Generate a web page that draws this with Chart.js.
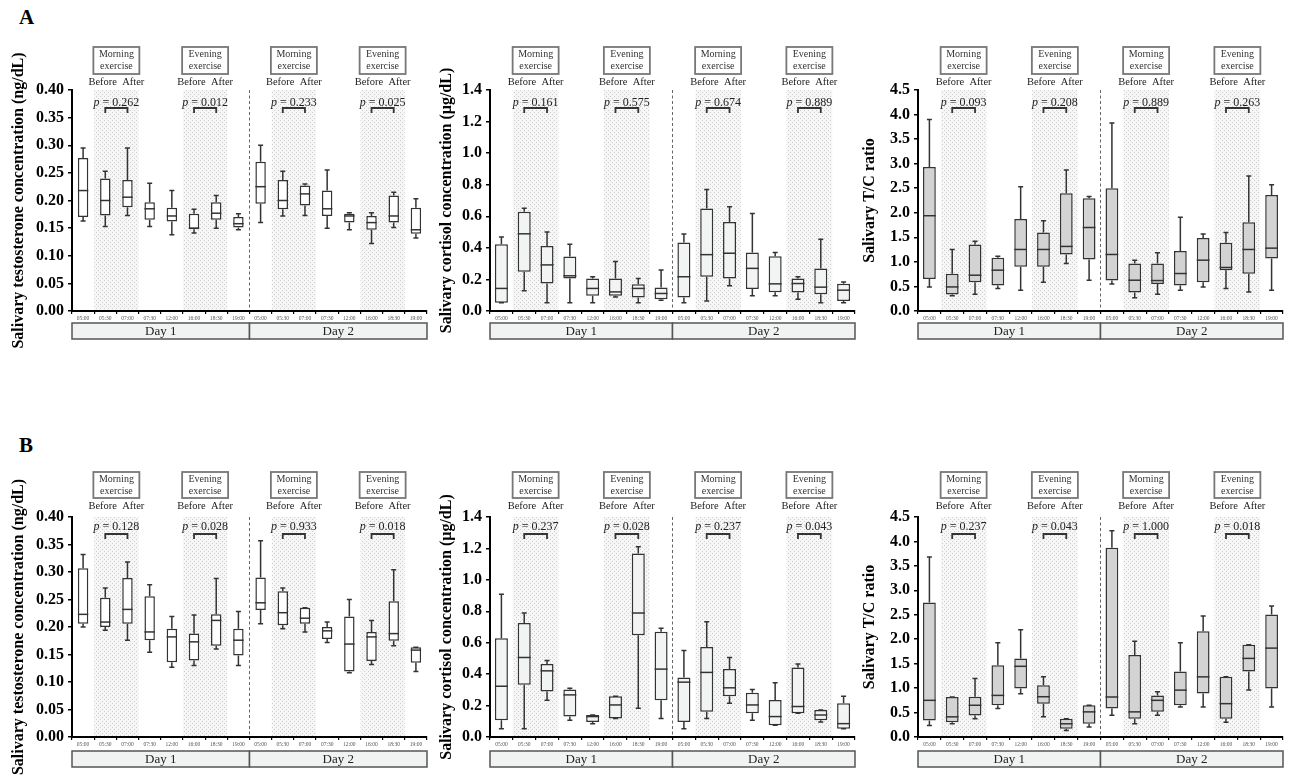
<!DOCTYPE html>
<html><head><meta charset="utf-8">
<script src="https://cdn.jsdelivr.net/npm/chart.js@4.4.1/dist/chart.umd.min.js"></script>
<style>
html,body{margin:0;padding:0;background:#fff;overflow:hidden;width:1291px;height:783px;}
.panel{position:absolute;}
.letter{position:absolute;font:bold 21px "Liberation Serif",serif;color:#000;line-height:24px;}
</style></head><body>
<div class="letter" style="left:19px;top:5px">A</div>
<div class="letter" style="left:19px;top:433px">B</div>
<canvas id="c1" class="panel"></canvas>
<canvas id="c2" class="panel"></canvas>
<canvas id="c3" class="panel"></canvas>
<canvas id="c4" class="panel"></canvas>
<canvas id="c5" class="panel"></canvas>
<canvas id="c6" class="panel"></canvas>
<script>
// ---------- data ----------
const timeLabels = ['05:00','05:30','07:00','07:30','12:00','16:00','18:30','19:00','05:00','05:30','07:00','07:30','12:00','16:00','18:30','19:00'];
const dayLabels = ['Day 1','Day 2'];
const exerciseNames = ['Morning','Evening','Morning','Evening'];
const exerciseWord = 'exercise';
const beforeAfter = 'Before  After';

const testTicks = [0,0.05,0.10,0.15,0.20,0.25,0.30,0.35,0.40];
const cortTicks = [0,0.2,0.4,0.6,0.8,1.0,1.2,1.4];
const ratioTicks = [0,0.5,1.0,1.5,2.0,2.5,3.0,3.5,4.0,4.5];

// A: testosterone
const aTestMin = [0.163,0.153,0.173,0.153,0.138,0.141,0.150,0.147, 0.160,0.172,0.173,0.150,0.147,0.122,0.151,0.132];
const aTestQ1  = [0.170,0.173,0.188,0.165,0.162,0.148,0.165,0.151, 0.194,0.184,0.191,0.172,0.160,0.147,0.160,0.140];
const aTestMed = [0.218,0.200,0.206,0.185,0.172,0.150,0.177,0.158, 0.225,0.200,0.212,0.185,0.172,0.160,0.172,0.147];
const aTestQ3  = [0.277,0.240,0.237,0.197,0.187,0.176,0.197,0.170, 0.270,0.237,0.227,0.218,0.176,0.172,0.209,0.187];
const aTestMax = [0.295,0.253,0.295,0.231,0.218,0.184,0.209,0.176, 0.300,0.253,0.230,0.255,0.178,0.178,0.215,0.203];
const aTestP = ['0.262','0.012','0.233','0.025'];
// A: cortisol
const aCortMin = [0.053,0.128,0.053,0.053,0.053,0.089,0.053,0.068, 0.053,0.064,0.160,0.096,0.096,0.074,0.053,0.053];
const aCortQ1  = [0.053,0.249,0.174,0.206,0.096,0.096,0.085,0.074, 0.085,0.217,0.206,0.140,0.119,0.117,0.106,0.064];
const aCortMed = [0.143,0.489,0.292,0.223,0.143,0.121,0.143,0.111, 0.217,0.357,0.366,0.270,0.172,0.174,0.151,0.132];
const aCortQ3  = [0.423,0.628,0.411,0.345,0.206,0.206,0.170,0.149, 0.434,0.649,0.564,0.370,0.347,0.206,0.270,0.172];
const aCortMax = [0.468,0.651,0.500,0.423,0.217,0.313,0.206,0.260, 0.487,0.770,0.660,0.617,0.370,0.217,0.455,0.183];
const aCortP = ['0.161','0.575','0.674','0.889'];
// A: T/C ratio
const aRatMin = [0.49,0.31,0.34,0.456,0.42,0.586,0.967,0.627, 0.55,0.272,0.34,0.42,0.49,0.456,0.388,0.42];
const aRatQ1  = [0.654,0.334,0.586,0.518,0.899,0.899,1.151,1.049, 0.62,0.375,0.552,0.518,0.586,0.831,0.756,1.07];
const aRatMed = [1.94,0.49,0.729,0.831,1.253,1.253,1.315,1.70, 1.151,0.627,0.62,0.763,1.035,0.886,1.253,1.28];
const aRatQ3  = [2.93,0.756,1.356,1.083,1.873,1.60,2.40,2.296, 2.50,0.967,0.967,1.22,1.485,1.39,1.805,2.364];
const aRatMax = [3.90,1.25,1.42,1.117,2.53,1.84,2.87,2.33, 3.83,1.035,1.185,1.907,1.567,1.60,2.75,2.57];
const aRatP = ['0.093','0.208','0.889','0.263'];
// B: testosterone
const bTestMin = [0.200,0.194,0.176,0.154,0.127,0.130,0.160,0.130, 0.206,0.197,0.191,0.172,0.117,0.132,0.166,0.119];
const bTestQ1  = [0.206,0.200,0.206,0.176,0.136,0.139,0.166,0.148, 0.231,0.203,0.206,0.178,0.119,0.138,0.175,0.135];
const bTestMed = [0.223,0.209,0.232,0.191,0.182,0.173,0.212,0.176, 0.244,0.226,0.216,0.193,0.169,0.182,0.188,0.158];
const bTestQ3  = [0.307,0.253,0.289,0.256,0.197,0.188,0.223,0.197, 0.290,0.265,0.235,0.200,0.219,0.191,0.247,0.163];
const bTestMax = [0.332,0.271,0.318,0.277,0.219,0.222,0.288,0.228, 0.357,0.271,0.235,0.209,0.250,0.212,0.304,0.163];
const bTestP = ['0.128','0.028','0.933','0.018'];
// B: cortisol
const bCortMin = [0.053,0.053,0.234,0.106,0.085,0.117,0.183,0.117, 0.053,0.117,0.215,0.106,0.074,0.151,0.096,0.053];
const bCortQ1  = [0.106,0.332,0.289,0.130,0.096,0.117,0.647,0.234, 0.096,0.160,0.260,0.151,0.074,0.151,0.106,0.053];
const bCortMed = [0.323,0.506,0.421,0.268,0.130,0.204,0.789,0.432, 0.349,0.411,0.313,0.204,0.130,0.194,0.140,0.085];
const bCortQ3  = [0.628,0.726,0.464,0.302,0.140,0.260,1.168,0.670, 0.379,0.572,0.432,0.281,0.236,0.443,0.172,0.215];
const bCortMax = [0.909,0.789,0.487,0.311,0.140,0.260,1.210,0.692, 0.551,0.734,0.506,0.302,0.345,0.464,0.172,0.260];
const bCortP = ['0.237','0.028','0.237','0.043'];
// B: T/C ratio
const bRatMin = [0.236,0.27,0.372,0.581,0.885,0.412,0.135,0.203, 0.446,0.27,0.446,0.615,0.615,0.304,0.959,0.615];
const bRatQ1  = [0.338,0.304,0.44,0.649,0.993,0.682,0.169,0.27, 0.581,0.372,0.514,0.649,0.892,0.372,1.338,0.993];
const bRatMed = [0.75,0.412,0.649,0.851,1.446,0.824,0.27,0.514, 0.818,0.514,0.75,0.959,1.23,0.682,1.608,1.818];
const bRatQ3  = [2.75,0.818,0.824,1.466,1.608,1.061,0.372,0.649, 3.87,1.676,0.851,1.338,2.162,1.23,1.885,2.507];
const bRatMax = [3.68,0.818,1.196,1.926,2.196,1.23,0.372,0.649, 4.22,1.96,0.926,1.926,2.473,1.23,1.885,2.68];
const bRatP = ['0.237','0.043','1.000','0.018'];

// ---------- layout / style ----------
const FONT = 'Liberation Serif';
const shadePairs = [[1,2],[5,6],[9,10],[13,14]];
const annA = {boxTop:-43, boxBot:-16, ba:-8, p:13, brTop:18, brBot:23, dayTop:12};
const annB = {boxTop:-45, boxBot:-19, ba:-11, p:10, brTop:17, brBot:22, dayTop:14};

const panels = [
 {id:'c1', CL:0,   CT:0,   CW:437, CH:360, L:72,  R:427,  T:90,  B:311, Xt:19,  title:'Salivary testosterone concentration (ng/dL)', ticks:testTicks, dec:2, max:0.4, v:[aTestMin,aTestQ1,aTestMed,aTestQ3,aTestMax], p:aTestP, fill:'#ffffff', bp:0.47, ann:annA},
 {id:'c2', CL:430, CT:0,   CW:433, CH:360, L:490, R:855,  T:90,  B:311, Xt:447, title:'Salivary cortisol concentration (\u03bcg/dL)', ticks:cortTicks, dec:1, max:1.4, v:[aCortMin,aCortQ1,aCortMed,aCortQ3,aCortMax], p:aCortP, fill:'#f2f3f3', bp:0.57, ann:annA},
 {id:'c3', CL:850, CT:0,   CW:441, CH:360, L:918, R:1283, T:90,  B:311, Xt:870, title:'Salivary T/C ratio', ticks:ratioTicks, dec:1, max:4.5, v:[aRatMin,aRatQ1,aRatMed,aRatQ3,aRatMax], p:aRatP, fill:'#d3d3d3', bp:0.56, ann:annA},
 {id:'c4', CL:0,   CT:427, CW:437, CH:356, L:72,  R:427,  T:517, B:737, Xt:19,  title:'Salivary testosterone concentration (ng/dL)', ticks:testTicks, dec:2, max:0.4, v:[bTestMin,bTestQ1,bTestMed,bTestQ3,bTestMax], p:bTestP, fill:'#ffffff', bp:0.47, ann:annB},
 {id:'c5', CL:430, CT:427, CW:433, CH:356, L:490, R:855,  T:517, B:737, Xt:447, title:'Salivary cortisol concentration (\u03bcg/dL)', ticks:cortTicks, dec:1, max:1.4, v:[bCortMin,bCortQ1,bCortMed,bCortQ3,bCortMax], p:bCortP, fill:'#f2f3f3', bp:0.57, ann:annB},
 {id:'c6', CL:850, CT:427, CW:441, CH:356, L:918, R:1283, T:517, B:737, Xt:870, title:'Salivary T/C ratio', ticks:ratioTicks, dec:1, max:4.5, v:[bRatMin,bRatQ1,bRatMed,bRatQ3,bRatMax], p:bRatP, fill:'#d3d3d3', bp:0.56, ann:annB}
];

function makePlugin(P){
  return {
    id:'extras_'+P.id,
    beforeDraw(chart){
      // shading and day divider, drawn before axes so they sit underneath
      const ctx=chart.ctx, xs=chart.scales.x, a=chart.chartArea;
      const cw=xs.getPixelForValue(1)-xs.getPixelForValue(0);
      if(!chart.$pat){
        const c=document.createElement('canvas'); c.width=4; c.height=4;
        const g=c.getContext('2d'); g.fillStyle='#f6f6f6'; g.fillRect(0,0,4,4);
        g.fillStyle='#cdcdcd'; g.fillRect(0,0,1,1); g.fillRect(2,2,1,1);
        chart.$pat=ctx.createPattern(c,'repeat');
      }
      ctx.save();
      ctx.fillStyle=chart.$pat;
      shadePairs.forEach(([i,j])=>{
        const x0=xs.getPixelForValue(i)-cw/2, x1=xs.getPixelForValue(j)+cw/2;
        ctx.fillRect(x0,a.top,x1-x0,a.bottom-a.top);
      });
      const mid=(xs.getPixelForValue(7)+xs.getPixelForValue(8))/2;
      ctx.strokeStyle='#666'; ctx.lineWidth=1; ctx.setLineDash([3,2.5]);
      ctx.beginPath(); ctx.moveTo(mid,a.top); ctx.lineTo(mid,a.bottom); ctx.stroke();
      ctx.setLineDash([]);
      ctx.restore();
    },
    beforeDatasetsDraw(chart){
      const ctx=chart.ctx, xs=chart.scales.x, ys=chart.scales.y;
      const [mn,q1,,q3,mx]=P.v;
      ctx.save();
      ctx.strokeStyle='#333'; ctx.lineWidth=1.5;
      mn.forEach((m,i)=>{
        const x=xs.getPixelForValue(i);
        const yMin=ys.getPixelForValue(m), yQ1=ys.getPixelForValue(q1[i]), yQ3=ys.getPixelForValue(q3[i]), yMax=ys.getPixelForValue(mx[i]);
        ctx.beginPath();
        ctx.moveTo(x,yQ3); ctx.lineTo(x,yMax); ctx.moveTo(x-2.5,yMax); ctx.lineTo(x+2.5,yMax);
        ctx.moveTo(x,yQ1); ctx.lineTo(x,yMin); ctx.moveTo(x-2.5,yMin); ctx.lineTo(x+2.5,yMin);
        ctx.stroke();
      });
      ctx.restore();
    },
    afterDatasetsDraw(chart){
      const ctx=chart.ctx, ys=chart.scales.y, meta=chart.getDatasetMeta(0);
      const med=P.v[2];
      ctx.save(); ctx.strokeStyle='#333'; ctx.lineWidth=1.5;
      meta.data.forEach((el,i)=>{
        const y=ys.getPixelForValue(med[i]);
        ctx.beginPath(); ctx.moveTo(el.x-el.width/2,y); ctx.lineTo(el.x+el.width/2,y); ctx.stroke();
      });
      ctx.restore();
    },
    afterDraw(chart){
      const ctx=chart.ctx, xs=chart.scales.x, a=chart.chartArea, A=P.ann, T=a.top;
      ctx.save();
      shadePairs.forEach(([i,j],k)=>{
        const xa=xs.getPixelForValue(i), xb=xs.getPixelForValue(j), cx=(xa+xb)/2;
        // label box
        ctx.fillStyle='#fff'; ctx.strokeStyle='#777'; ctx.lineWidth=1.8;
        ctx.fillRect(cx-23,T+A.boxTop,46,A.boxBot-A.boxTop);
        ctx.strokeRect(cx-23,T+A.boxTop,46,A.boxBot-A.boxTop);
        ctx.fillStyle='#333'; ctx.textAlign='center'; ctx.textBaseline='middle';
        ctx.font='10px "'+FONT+'"';
        ctx.fillText(exerciseNames[k],cx,T+A.boxTop+7.5);
        ctx.fillText(exerciseWord,cx,T+A.boxTop+19);
        ctx.fillStyle='#222'; ctx.font='10.5px "'+FONT+'"';
        ctx.fillText(beforeAfter,cx,T+A.ba);
        // p value
        ctx.font='italic 12px "'+FONT+'"'; const pw=ctx.measureText('p').width;
        ctx.font='12px "'+FONT+'"'; const rest=' = '+P.p[k]; const rw=ctx.measureText(rest).width;
        const sx=cx-(pw+rw)/2; ctx.textAlign='left';
        ctx.font='italic 12px "'+FONT+'"'; ctx.fillText('p',sx,T+A.p);
        ctx.font='12px "'+FONT+'"'; ctx.fillText(rest,sx+pw,T+A.p);
        // bracket
        ctx.strokeStyle='#333'; ctx.lineWidth=1.8;
        ctx.beginPath(); ctx.moveTo(xa,T+A.brBot); ctx.lineTo(xa,T+A.brTop); ctx.lineTo(xb,T+A.brTop); ctx.lineTo(xb,T+A.brBot); ctx.stroke();
      });
      // day boxes
      const mid=(xs.getPixelForValue(7)+xs.getPixelForValue(8))/2;
      const y0=a.bottom+A.dayTop, h=16;
      [[a.left,mid],[mid,a.right]].forEach(([x0,x1],k)=>{
        ctx.fillStyle='#f1f2f2'; ctx.fillRect(x0,y0,x1-x0,h);
        ctx.strokeStyle='#555'; ctx.lineWidth=1.5; ctx.strokeRect(x0,y0,x1-x0,h);
        ctx.fillStyle='#222'; ctx.font='13px "'+FONT+'"'; ctx.textAlign='center'; ctx.textBaseline='middle';
        ctx.fillText(dayLabels[k],(x0+x1)/2,y0+h/2+0.5);
      });
      ctx.restore();
    }
  };
}

panels.forEach(P=>{
  const cv=document.getElementById(P.id);
  cv.width=P.CW; cv.height=P.CH;
  cv.style.left=P.CL+'px'; cv.style.top=P.CT+'px';
  cv.style.width=P.CW+'px'; cv.style.height=P.CH+'px';
  const padLeft=P.Xt-9.6-P.CL;
  const yW=P.L-(P.Xt-9.6);
  const Hx=12;
  const [mn,q1,med,q3,mx]=P.v;
  new Chart(cv,{
    type:'bar',
    data:{labels:timeLabels,datasets:[{
      data:q1.map((v,i)=>[v,q3[i]]),
      backgroundColor:P.fill, borderColor:'#333', borderWidth:1.5, borderSkipped:false,
      barPercentage:P.bp, categoryPercentage:1
    }]},
    options:{
      responsive:false, animation:false, events:[],
      layout:{padding:{left:padLeft, right:P.CL+P.CW-P.R, top:P.T-P.CT, bottom:P.CT+P.CH-P.B-Hx}},
      plugins:{legend:{display:false},tooltip:{enabled:false}},
      scales:{
        x:{type:'category', offset:true,
           grid:{offset:true, drawOnChartArea:false, drawTicks:true, tickLength:3, color:'#000', lineWidth:1.2},
           border:{color:'#000', width:2},
           ticks:{font:{family:FONT,size:5.5}, color:'#555', padding:1, autoSkip:false, maxRotation:0, minRotation:0},
           afterFit:s=>{s.height=Hx;}},
        y:{type:'linear', min:0, max:P.max,
           afterBuildTicks:s=>{s.ticks=P.ticks.map(v=>({value:v}));},
           ticks:{callback:v=>Number(v).toFixed(P.dec), font:{family:FONT,size:16,weight:'bold'}, color:'#000', padding:4},
           grid:{drawOnChartArea:false, tickLength:4, color:'#000', lineWidth:1.5},
           border:{color:'#000', width:2},
           title:{display:true, text:P.title, font:{family:FONT,size:16,weight:'bold'}, color:'#000', padding:0},
           afterFit:s=>{s.width=yW;}}
      }
    },
    plugins:[makePlugin(P)]
  });
});
</script>
</body></html>
